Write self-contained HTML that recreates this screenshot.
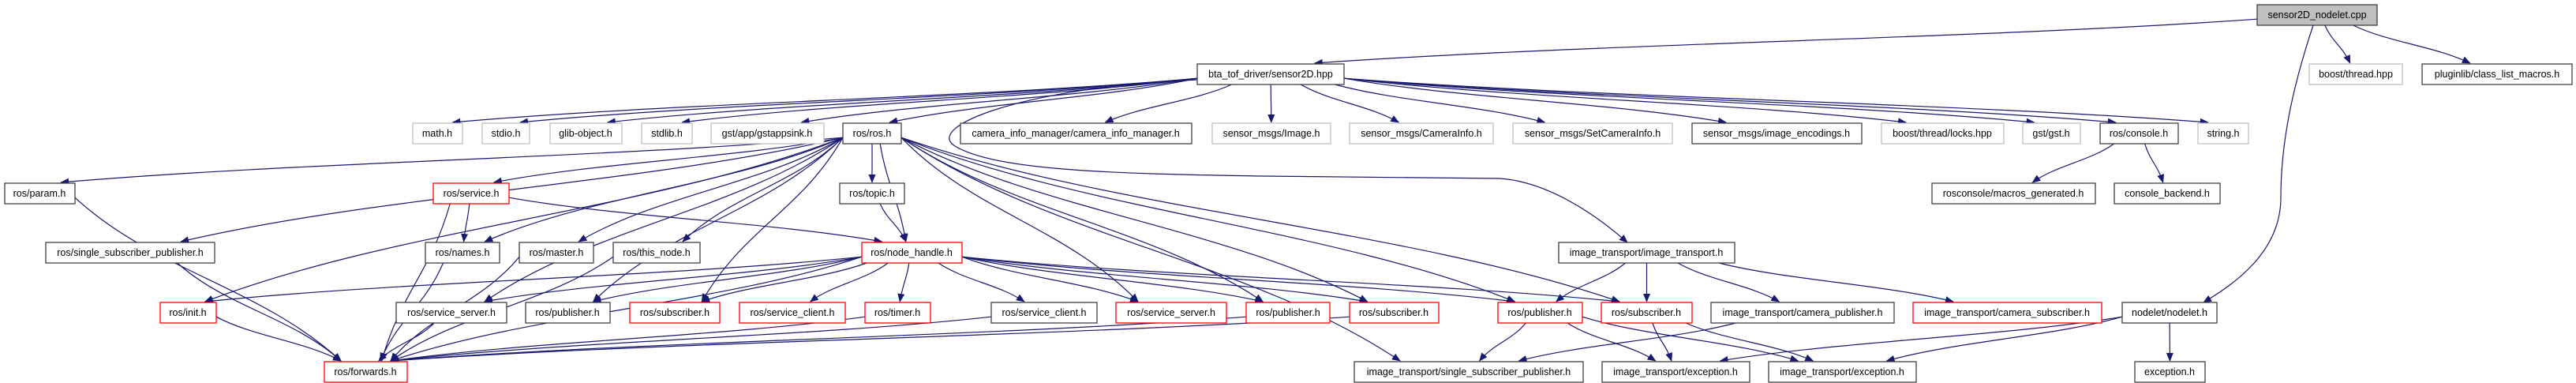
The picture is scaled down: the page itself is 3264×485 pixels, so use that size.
<!DOCTYPE html>
<html><head><meta charset="utf-8"><style>
html,body{margin:0;padding:0;background:#fff;width:3264px;height:485px;overflow:hidden}
svg{display:block}
text{font-family:"Liberation Sans",sans-serif;font-size:12.5px;fill:#000;text-anchor:middle;dominant-baseline:central}
.k{fill:#fff;stroke:#404040;stroke-width:1.3}
.r{fill:#fff;stroke:#ff0000;stroke-width:1.3}
.g{fill:#fff;stroke:#bfbfbf;stroke-width:1.3}
.t{fill:#bfbfbf;stroke:#404040;stroke-width:1.3}
#edges path,#cedges path{fill:none;stroke:#191970;stroke-width:1.2}
</style></head><body>
<svg id="s" width="3264" height="485" viewBox="0 0 3264 485" xmlns="http://www.w3.org/2000/svg">
<defs><marker id="a" markerWidth="11" markerHeight="9" refX="10" refY="4.5" orient="auto" markerUnits="userSpaceOnUse"><path d="M0,0 L11,4.5 L0,9 z" fill="#191970"/></marker></defs>
<g id="edges"></g>
<g id="cedges">
<path d="M2931,32 C2905,110 2890,180 2890,250 C2890,320 2830,360 2792,383" marker-end="url(#a)"/>
<path d="M1517,101 C1300,110 1170,160 1210,185 C1260,215 1400,220 1600,223 L1900,226 C1960,230 2020,270 2062,307" marker-end="url(#a)"/>
</g>
<g id="nodes">
<rect class="t" x="2860" y="6" width="152" height="26"/><text x="2936" y="19">sensor2D_nodelet.cpp</text>
<rect class="k" x="1517" y="81" width="186" height="26"/><text x="1610" y="94">bta_tof_driver/sensor2D.hpp</text>
<rect class="g" x="2926" y="81" width="118" height="26"/><text x="2985" y="94">boost/thread.hpp</text>
<rect class="k" x="3069" y="81" width="190" height="26"/><text x="3164" y="94">pluginlib/class_list_macros.h</text>

<rect class="g" x="523" y="156" width="63" height="26"/><text x="554" y="169">math.h</text>
<rect class="g" x="611" y="156" width="60" height="26"/><text x="641" y="169">stdio.h</text>
<rect class="g" x="697" y="156" width="91" height="26"/><text x="742" y="169">glib-object.h</text>
<rect class="g" x="813" y="156" width="64" height="26"/><text x="845" y="169">stdlib.h</text>
<rect class="g" x="901" y="156" width="143" height="26"/><text x="972" y="169">gst/app/gstappsink.h</text>
<rect class="k" x="1068" y="156" width="74" height="26"/><text x="1105" y="169">ros/ros.h</text>
<rect class="k" x="1217" y="156" width="293" height="26"/><text x="1363" y="169">camera_info_manager/camera_info_manager.h</text>
<rect class="g" x="1536" y="156" width="150" height="26"/><text x="1611" y="169">sensor_msgs/Image.h</text>
<rect class="g" x="1710" y="156" width="182" height="26"/><text x="1801" y="169">sensor_msgs/CameraInfo.h</text>
<rect class="g" x="1917" y="156" width="202" height="26"/><text x="2018" y="169">sensor_msgs/SetCameraInfo.h</text>
<rect class="k" x="2144" y="156" width="215" height="26"/><text x="2251" y="169">sensor_msgs/image_encodings.h</text>
<rect class="g" x="2384" y="156" width="155" height="26"/><text x="2461" y="169">boost/thread/locks.hpp</text>
<rect class="g" x="2563" y="156" width="73" height="26"/><text x="2599" y="169">gst/gst.h</text>
<rect class="k" x="2661" y="156" width="99" height="26"/><text x="2710" y="169">ros/console.h</text>
<rect class="g" x="2785" y="156" width="64" height="26"/><text x="2817" y="169">string.h</text>

<rect class="k" x="6" y="232" width="89" height="26"/><text x="50" y="245">ros/param.h</text>
<rect class="r" x="549" y="232" width="96" height="26"/><text x="597" y="245">ros/service.h</text>
<rect class="k" x="1064" y="232" width="82" height="26"/><text x="1105" y="245">ros/topic.h</text>
<rect class="k" x="2448" y="232" width="207" height="26"/><text x="2551" y="245">rosconsole/macros_generated.h</text>
<rect class="k" x="2679" y="232" width="134" height="26"/><text x="2746" y="245">console_backend.h</text>

<rect class="k" x="58" y="307" width="214" height="26"/><text x="165" y="320">ros/single_subscriber_publisher.h</text>
<rect class="k" x="539" y="307" width="94" height="26"/><text x="586" y="320">ros/names.h</text>
<rect class="k" x="658" y="307" width="94" height="26"/><text x="705" y="320">ros/master.h</text>
<rect class="k" x="777" y="307" width="110" height="26"/><text x="832" y="320">ros/this_node.h</text>
<rect class="r" x="1092" y="307" width="127" height="26"/><text x="1155" y="320">ros/node_handle.h</text>
<rect class="k" x="1975" y="307" width="223" height="26"/><text x="2086" y="320">image_transport/image_transport.h</text>

<rect class="r" x="203" y="383" width="71" height="26"/><text x="238" y="396">ros/init.h</text>
<rect class="k" x="502" y="383" width="140" height="26"/><text x="572" y="396">ros/service_server.h</text>
<rect class="k" x="666" y="383" width="107" height="26"/><text x="719" y="396">ros/publisher.h</text>
<rect class="r" x="798" y="383" width="114" height="26"/><text x="855" y="396">ros/subscriber.h</text>
<rect class="r" x="937" y="383" width="134" height="26"/><text x="1004" y="396">ros/service_client.h</text>
<rect class="r" x="1096" y="383" width="83" height="26"/><text x="1137" y="396">ros/timer.h</text>
<rect class="k" x="1256" y="383" width="134" height="26"/><text x="1323" y="396">ros/service_client.h</text>
<rect class="r" x="1414" y="383" width="140" height="26"/><text x="1484" y="396">ros/service_server.h</text>
<rect class="r" x="1579" y="383" width="106" height="26"/><text x="1632" y="396">ros/publisher.h</text>
<rect class="r" x="1710" y="383" width="113" height="26"/><text x="1766" y="396">ros/subscriber.h</text>
<rect class="r" x="1898" y="383" width="107" height="26"/><text x="1951" y="396">ros/publisher.h</text>
<rect class="r" x="2029" y="383" width="115" height="26"/><text x="2086" y="396">ros/subscriber.h</text>
<rect class="k" x="2168" y="383" width="232" height="26"/><text x="2284" y="396">image_transport/camera_publisher.h</text>
<rect class="r" x="2424" y="383" width="239" height="26"/><text x="2543" y="396">image_transport/camera_subscriber.h</text>
<rect class="k" x="2689" y="383" width="120" height="26"/><text x="2749" y="396">nodelet/nodelet.h</text>

<rect class="r" x="411" y="458" width="105" height="26"/><text x="463" y="471">ros/forwards.h</text>
<rect class="k" x="1716" y="458" width="290" height="26"/><text x="1861" y="471">image_transport/single_subscriber_publisher.h</text>
<rect class="k" x="2030" y="458" width="187" height="26"/><text x="2123" y="471">image_transport/exception.h</text>
<rect class="k" x="2241" y="458" width="187" height="26"/><text x="2334" y="471">image_transport/exception.h</text>
<rect class="k" x="2705" y="458" width="89" height="26"/><text x="2749" y="471">exception.h</text>
</g>
</svg>
<script>
(function(){
var rs=document.querySelectorAll('#nodes rect'),N=[];
for(var i=0;i<rs.length;i++){var r=rs[i];N.push({x:+r.getAttribute('x'),y:+r.getAttribute('y'),w:+r.getAttribute('width'),h:+r.getAttribute('height'),name:r.nextElementSibling.textContent});}
function f(name,x){var best=null,bd=1e9;for(var i=0;i<N.length;i++){if(N[i].name==name){var d=x==null?0:Math.abs(N[i].x-x);if(d<bd){bd=d;best=N[i];}}}return best;}
var E=[
['sensor2D_nodelet.cpp',null,'bta_tof_driver/sensor2D.hpp',null],
['sensor2D_nodelet.cpp',null,'boost/thread.hpp',null],
['sensor2D_nodelet.cpp',null,'pluginlib/class_list_macros.h',null]
];
var S='bta_tof_driver/sensor2D.hpp';
['math.h','stdio.h','glib-object.h','stdlib.h','gst/app/gstappsink.h','ros/ros.h','camera_info_manager/camera_info_manager.h','sensor_msgs/Image.h','sensor_msgs/CameraInfo.h','sensor_msgs/SetCameraInfo.h','sensor_msgs/image_encodings.h','boost/thread/locks.hpp','gst/gst.h','ros/console.h','string.h'].forEach(function(t){E.push([S,null,t,null]);});
var R='ros/ros.h';
[['ros/param.h'],['ros/single_subscriber_publisher.h'],['ros/service.h'],['ros/names.h'],['ros/master.h'],['ros/this_node.h'],['ros/topic.h'],['ros/node_handle.h'],['ros/init.h'],['ros/service_server.h',502],['ros/publisher.h',666],['ros/subscriber.h',798],['ros/service_server.h',1414],['ros/publisher.h',1579],['ros/subscriber.h',1710],['image_transport/single_subscriber_publisher.h'],['ros/publisher.h',1898],['ros/subscriber.h',2029]].forEach(function(t){E.push([R,null,t[0],t[1]==null?null:t[1]]);});
['ros/names.h','ros/node_handle.h','ros/forwards.h'].forEach(function(t){E.push(['ros/service.h',null,t,null]);});
E.push(['ros/topic.h',null,'ros/node_handle.h',null]);
var H='ros/node_handle.h';
[['ros/init.h'],['ros/service_server.h',502],['ros/publisher.h',666],['ros/subscriber.h',798],['ros/service_client.h',937],['ros/timer.h'],['ros/service_client.h',1256],['ros/service_server.h',1414],['ros/publisher.h',1579],['ros/subscriber.h',1710],['ros/publisher.h',1898],['ros/subscriber.h',2029],['ros/forwards.h']].forEach(function(t){E.push([H,null,t[0],t[1]==null?null:t[1]]);});
[['ros/names.h'],['ros/master.h'],['ros/this_node.h'],['ros/param.h'],['ros/single_subscriber_publisher.h'],['ros/init.h'],['ros/service_server.h',502],['ros/timer.h'],['ros/service_client.h',1256],['ros/publisher.h',1579],['ros/subscriber.h',1710]].forEach(function(s){E.push([s[0],s[1]==null?null:s[1],'ros/forwards.h',null]);});
var I='image_transport/image_transport.h';
[['ros/publisher.h',1898],['ros/subscriber.h',2029],['image_transport/camera_publisher.h'],['image_transport/camera_subscriber.h']].forEach(function(t){E.push([I,null,t[0],t[1]==null?null:t[1]]);});
E.push(['ros/publisher.h',1898,'image_transport/single_subscriber_publisher.h',null]);
E.push(['ros/publisher.h',1898,'image_transport/exception.h',2030]);
E.push(['ros/publisher.h',1898,'image_transport/exception.h',2241]);
E.push(['ros/subscriber.h',2029,'image_transport/exception.h',2030]);
E.push(['ros/subscriber.h',2029,'image_transport/exception.h',2241]);
E.push(['image_transport/camera_publisher.h',null,'image_transport/single_subscriber_publisher.h',null]);
E.push(['nodelet/nodelet.h',null,'image_transport/exception.h',2030]);
E.push(['nodelet/nodelet.h',null,'image_transport/exception.h',2241]);
E.push(['nodelet/nodelet.h',null,'exception.h',null]);
E.push(['ros/console.h',null,'rosconsole/macros_generated.h',null]);
E.push(['ros/console.h',null,'console_backend.h',null]);
function sg(v){return v<0?-1:(v>0?1:0);}
var g=document.getElementById('edges'),out='';
E.forEach(function(e){var a=f(e[0],e[1]),b=f(e[2],e[3]);if(!a||!b)return;
var acx=a.x+a.w/2,bcx=b.x+b.w/2,dx=bcx-acx;
var sx,py;
if(Math.abs(dx)>a.w*2.5){sx=dx<0?a.x:a.x+a.w;py=a.y+a.h*0.7;}
else{sx=acx+sg(dx)*Math.min(Math.abs(dx)*0.2,a.w*0.45);py=a.y+a.h;}
var tx=bcx-sg(dx)*Math.min(Math.abs(dx)*0.15,b.w*0.3);
var qy=b.y-1,dy=qy-py,ddx=tx-sx;
var d='M'+sx.toFixed(1)+','+py.toFixed(1)+' C'+(sx+ddx*0.3).toFixed(1)+','+(py+dy*0.45).toFixed(1)+' '+(tx-ddx*0.3).toFixed(1)+','+(qy-dy*0.45).toFixed(1)+' '+tx.toFixed(1)+','+qy;
out+='<path d="'+d+'" marker-end="url(#a)"/>';});
g.innerHTML=out;
})();
</script>
</body></html>
